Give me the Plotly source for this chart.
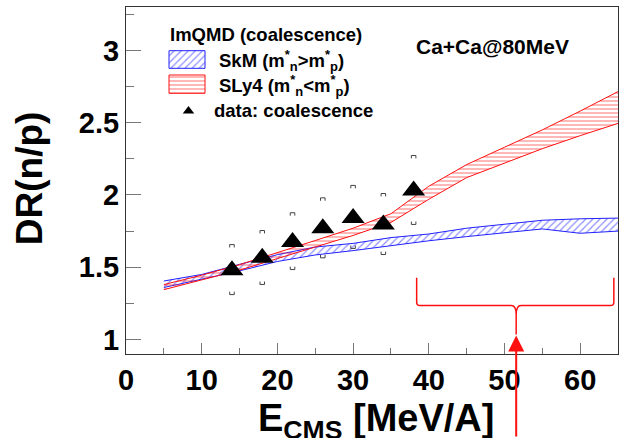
import plotly.graph_objects as go

# ---------------- data ----------------
e_cms = [14, 18, 22, 26, 30, 34, 38]
dr_data = [1.48, 1.565, 1.675, 1.77, 1.84, 1.795, 2.03]
dr_err_up = [0.177, 0.189, 0.202, 0.21, 0.226, 0.215, 0.243]
dr_err_lo = [0.169, 0.184, 0.191, 0.205, 0.21, 0.207, 0.234]

band_x = [5, 10, 15, 20, 25, 30, 35, 40, 45, 50, 55, 60, 65]
skm_lo = [1.36, 1.415, 1.475, 1.54, 1.585, 1.615, 1.65, 1.683, 1.712, 1.74, 1.765, 1.735, 1.75]
skm_hi = [1.405, 1.45, 1.52, 1.587, 1.64, 1.665, 1.705, 1.73, 1.77, 1.80, 1.825, 1.835, 1.84]
sly4_lo = [1.345, 1.41, 1.48, 1.56, 1.64, 1.72, 1.81, 1.97, 2.12, 2.22, 2.32, 2.41, 2.495]
sly4_hi = [1.38, 1.445, 1.518, 1.60, 1.685, 1.77, 1.87, 2.06, 2.21, 2.33, 2.45, 2.58, 2.715]

x_ticks = [0, 10, 20, 30, 40, 50, 60]
y_ticks = [1, 1.5, 2, 2.5, 3]

# bracket / arrow annotation (data coordinates)
brace_left, brace_right, brace_mid = 38.4, 64.45, 51.55
brace_top, brace_bar, brace_stem = 1.427, 1.235, 1.035
arrow_tip = 1.028

FONT = "Liberation Sans"
BLUE = "#2020ff"
RED = "#ff1010"

fig = go.Figure()

# SkM band
fig.add_trace(go.Scatter(x=band_x, y=skm_lo, mode="lines",
                         line=dict(color=BLUE, width=1), showlegend=False))
fig.add_trace(go.Scatter(x=band_x, y=skm_hi, mode="lines", fill="tonexty",
                         line=dict(color=BLUE, width=1), fillcolor="rgba(0,0,0,0)",
                         fillpattern=dict(shape="/", fgcolor=BLUE, bgcolor="rgba(0,0,0,0)",
                                          size=5, solidity=0.25),
                         showlegend=False))
# SLy4 band
fig.add_trace(go.Scatter(x=band_x, y=sly4_lo, mode="lines",
                         line=dict(color=RED, width=1), showlegend=False))
fig.add_trace(go.Scatter(x=band_x, y=sly4_hi, mode="lines", fill="tonexty",
                         line=dict(color=RED, width=1), fillcolor="rgba(0,0,0,0)",
                         fillpattern=dict(shape="-", fgcolor=RED, bgcolor="rgba(0,0,0,0)",
                                          size=4, solidity=0.3),
                         showlegend=False))

# error brackets (caps only)
cap_dx, cap_dy = 0.3, 0.02
bx, by = [], []
for x, y, eu, el in zip(e_cms, dr_data, dr_err_up, dr_err_lo):
    yu = y + eu
    yl = y - el
    bx += [x - cap_dx, x - cap_dx, x + cap_dx, x + cap_dx, None]
    by += [yu - cap_dy, yu, yu, yu - cap_dy, None]
    bx += [x - cap_dx, x - cap_dx, x + cap_dx, x + cap_dx, None]
    by += [yl + cap_dy, yl, yl, yl + cap_dy, None]
fig.add_trace(go.Scatter(x=bx, y=by, mode="lines", line=dict(color="#444", width=1),
                         showlegend=False, connectgaps=False))

# data points
fig.add_trace(go.Scatter(x=e_cms, y=dr_data, mode="markers",
                         marker=dict(symbol="triangle-up", size=20, color="black"),
                         showlegend=False))

# ---- legend (drawn on a pixel-coordinate overlay axis) ----
leg_box_x = [169, 205]
leg_blue_y = [50.7, 68.3]
leg_red_y = [75.0, 93.3]
leg_tri = (188.5, 111)

def box(xr, yr):
    return [xr[0], xr[1], xr[1], xr[0], xr[0]], [yr[0], yr[0], yr[1], yr[1], yr[0]]

xs, ys = box(leg_box_x, leg_blue_y)
fig.add_trace(go.Scatter(x=xs, y=ys, xaxis="x2", yaxis="y2", mode="lines", fill="toself",
                         line=dict(color=BLUE, width=1), fillcolor="rgba(0,0,0,0)",
                         fillpattern=dict(shape="/", fgcolor=BLUE, bgcolor="rgba(0,0,0,0)",
                                          size=5, solidity=0.25), showlegend=False))
xs, ys = box(leg_box_x, leg_red_y)
fig.add_trace(go.Scatter(x=xs, y=ys, xaxis="x2", yaxis="y2", mode="lines", fill="toself",
                         line=dict(color=RED, width=1), fillcolor="rgba(0,0,0,0)",
                         fillpattern=dict(shape="-", fgcolor=RED, bgcolor="rgba(0,0,0,0)",
                                          size=4, solidity=0.3), showlegend=False))
fig.add_trace(go.Scatter(x=[leg_tri[0]], y=[leg_tri[1]], xaxis="x2", yaxis="y2", mode="markers",
                         marker=dict(symbol="triangle-up", size=10, color="black"),
                         showlegend=False))

def ann_px(text, x, y, size, xanchor="left", **kw):
    return dict(text=text, x=x, y=y, xref="x2", yref="y2", showarrow=False,
                xanchor=xanchor, yanchor="middle",
                font=dict(family=FONT, size=size, color="black", weight="bold"), **kw)

annotations = [
    ann_px("ImQMD (coalescence)", 168, 34, 18.5),
    ann_px("SkM (m<sup>*</sup><sub>n</sub>>m<sup>*</sup><sub>p</sub>)", 217, 60, 18.5),
    ann_px("SLy4 (m<sup>*</sup><sub>n</sub><m<sup>*</sup><sub>p</sub>)", 217, 85, 18.5),
    ann_px("data: coalescence", 212, 110, 18.5),
    ann_px("Ca+Ca@80MeV", 414, 46, 21),
    # axis titles
    dict(text="DR(n/p)", x=-0.197, y=0.507, xref="paper", yref="paper", showarrow=False,
         textangle=-90, xanchor="center", yanchor="middle",
         font=dict(family=FONT, size=37, color="black", weight="bold")),
    dict(text="E<sub>CMS</sub> [MeV/A]", x=0.508, y=-0.118, xref="paper", yref="paper",
         showarrow=False, xanchor="center", yanchor="top",
         font=dict(family=FONT, size=38, color="black", weight="bold")),
    # red arrow
    dict(text="", x=brace_mid, y=arrow_tip, xref="x", yref="y", showarrow=True,
         ax=0, ay=115, arrowhead=2, arrowsize=1.6, arrowwidth=2, arrowcolor=RED,
         standoff=0),
]

# curly bracket
brace_path = (
    f"M {brace_left},{brace_top} L {brace_left},{brace_bar + 0.023} "
    f"Q {brace_left},{brace_bar} {brace_left + 0.44},{brace_bar} "
    f"L {brace_mid - 0.66},{brace_bar} "
    f"Q {brace_mid},{brace_bar} {brace_mid},{brace_bar - 0.062} "
    f"L {brace_mid},{brace_stem} "
    f"M {brace_mid},{brace_bar - 0.062} "
    f"Q {brace_mid},{brace_bar} {brace_mid + 0.66},{brace_bar} "
    f"L {brace_right - 0.44},{brace_bar} "
    f"Q {brace_right},{brace_bar} {brace_right},{brace_bar + 0.023} "
    f"L {brace_right},{brace_top}"
)
shapes = [dict(type="path", path=brace_path, xref="x", yref="y",
               line=dict(color=RED, width=1.5))]

fig.update_layout(
    width=619, height=438,
    margin=dict(l=126, r=1, t=7, b=84),
    paper_bgcolor="white", plot_bgcolor="white",
    font=dict(family=FONT, color="black"),
    showlegend=False,
    annotations=annotations,
    shapes=shapes,
    xaxis=dict(range=[0, 65], tickvals=x_ticks, ticks="inside", ticklen=11, tickcolor="#777",
               tickwidth=1, showgrid=False, zeroline=False, showline=True, linecolor="#333",
               linewidth=1, mirror=True,
               minor=dict(dtick=5, tick0=0, ticks="inside", ticklen=6, tickcolor="#777", showgrid=False),
               tickfont=dict(family=FONT, size=29, color="black", weight="bold")),
    yaxis=dict(range=[0.9, 3.3], tickvals=y_ticks, ticks="inside", ticklen=15, tickcolor="#777",
               tickwidth=1, showgrid=False, zeroline=False, showline=True, linecolor="#333",
               linewidth=1, mirror=True,
               minor=dict(dtick=0.25, tick0=0, ticks="inside", ticklen=8, tickcolor="#777", showgrid=False),
               tickfont=dict(family=FONT, size=29, color="black", weight="bold")),
    xaxis2=dict(range=[126, 618], overlaying="x", visible=False, fixedrange=True),
    yaxis2=dict(range=[354, 7], overlaying="y", visible=False, fixedrange=True),
)

fig.write_html("out.html", config={"displayModeBar": False},
               post_script="document.body.style.margin='0';document.body.style.overflow='hidden';")
